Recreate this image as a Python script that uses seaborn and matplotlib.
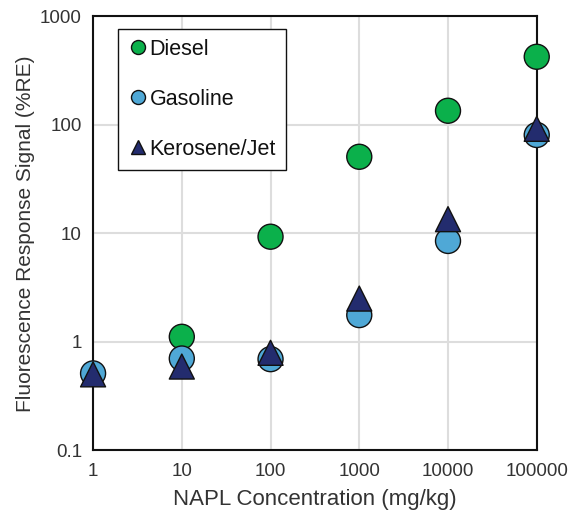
import numpy as np
import pandas as pd
import matplotlib
matplotlib.use('Agg')
import matplotlib.pyplot as plt
import seaborn as sns

conc = [1, 10, 100, 1000, 10000, 100000]
diesel_x = [10, 100, 1000, 10000, 100000]
diesel = [1.11, 9.3, 50.8, 135, 425]
gasoline = [0.51, 0.70, 0.69, 1.76, 8.5, 80.7]
kerosene = [0.50, 0.59, 0.79, 2.5, 13.5, 92]
x_ticks = [1, 10, 100, 1000, 10000, 100000]
x_labels = ['1', '10', '100', '1000', '10000', '100000']
y_ticks = [0.1, 1, 10, 100, 1000]
y_labels = ['0.1', '1', '10', '100', '1000']

df = pd.concat([
    pd.DataFrame({'conc': diesel_x, 'signal': diesel, 'fuel': 'Diesel'}),
    pd.DataFrame({'conc': conc, 'signal': gasoline, 'fuel': 'Gasoline'}),
    pd.DataFrame({'conc': conc, 'signal': kerosene, 'fuel': 'Kerosene/Jet'}),
], ignore_index=True)

sns.set_theme(style='whitegrid')
plt.rcParams['font.family'] = ['Liberation Sans', 'DejaVu Sans']

palette = {'Diesel': '#0bb04b', 'Gasoline': '#4fa8d6', 'Kerosene/Jet': '#232c6e'}
markers = {'Diesel': 'o', 'Gasoline': 'o', 'Kerosene/Jet': '^'}

fig, ax = plt.subplots(figsize=(5.71, 5.15), dpi=100)
fig.subplots_adjust(left=0.163, right=0.940, top=0.968, bottom=0.126)

sns.scatterplot(data=df, x='conc', y='signal', hue='fuel', style='fuel',
                palette=palette, markers=markers, s=324, edgecolor='#111111',
                linewidth=1.0, alpha=1, ax=ax, zorder=3)
for c in ax.collections:
    c.set_clip_on(False)

ax.set_xscale('log')
ax.set_yscale('log')
ax.set_xlim(1, 100000)
ax.set_ylim(0.1, 1000)
ax.set_xticks(x_ticks)
ax.set_xticklabels(x_labels)
ax.set_yticks(y_ticks)
ax.set_yticklabels(y_labels)
ax.minorticks_off()
ax.tick_params(axis='both', length=0, labelsize=13.5, labelcolor='#333333')
ax.tick_params(axis='x', pad=9)
ax.tick_params(axis='y', pad=8)

ax.grid(True, which='major', color='#dddddd', linewidth=1.5)
ax.set_axisbelow(True)
for sp in ax.spines.values():
    sp.set_color('#111111')
    sp.set_linewidth(1.5)

ax.set_xlabel('NAPL Concentration (mg/kg)', fontsize=16, color='#333333', labelpad=7)
ax.set_ylabel('Fluorescence Response Signal (%RE)', fontsize=15, color='#333333', labelpad=4)

leg = ax.legend(loc='upper left', bbox_to_anchor=(0.056, 0.971), borderaxespad=0,
                fontsize=15.5, markerscale=0.56, labelspacing=1.35, handlelength=1.0,
                handletextpad=0.02, borderpad=0.45, fancybox=False, framealpha=1,
                edgecolor='#111111', title=None)
leg.get_frame().set_linewidth(1.0)
for t in leg.get_texts():
    t.set_color('#111111')

fig.savefig('out.png', dpi=100)
